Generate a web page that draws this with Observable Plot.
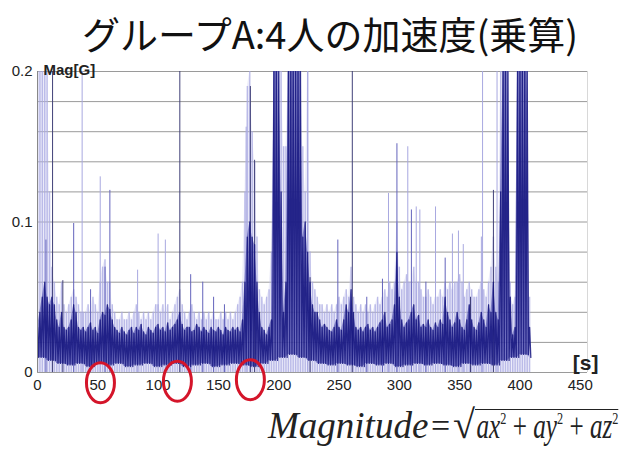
<!DOCTYPE html>
<html><head><meta charset="utf-8">
<script src="https://cdn.jsdelivr.net/npm/d3@7"></script>
<script src="https://cdn.jsdelivr.net/npm/@observablehq/plot@0.6"></script>
<style>
body{margin:0;background:#fff;}
#wrap{position:relative;width:624px;height:450px;overflow:hidden;background:#fff;}
#title{position:absolute;left:18px;top:8px;width:624px;text-align:center;font-family:"Noto Sans CJK JP",sans-serif;font-size:38px;line-height:50px;color:#111;}
#chart{position:absolute;left:0;top:60px;}
.f{position:absolute;font-family:"Liberation Serif","DejaVu Serif",serif;color:#222;white-space:nowrap;}
#fmag{left:268px;top:407px;font-size:37px;line-height:38px;font-style:italic;}
#feq{left:431px;top:407px;font-size:34px;line-height:38px;}
#fsq{left:453px;top:404px;font-size:40px;line-height:42px;}
#frad{left:475px;top:409px;font-size:35px;line-height:33px;border-top:1.6px solid #222;transform:scaleX(0.72);transform-origin:0 0;padding-left:2px;}
#frad sup{font-size:17px;vertical-align:14px;line-height:0;}
</style></head>
<body><div id="wrap">
<div id="title">グループA:4人の加速度(乗算)</div>
<div id="chart"></div>
<div class="f" id="fmag">Magnitude</div>
<div class="f" id="feq">=</div>
<div class="f" id="fsq">√</div>
<div class="f" id="frad"><i>ax</i><sup>2</sup> + <i>ay</i><sup>2</sup> + <i>az</i><sup>2</sup></div>
</div>
<script>
// time step of the binned envelopes (s)
const tStep = 2;
// dark core band: top per 2 s bin, t = 0..408
const coreTop = [
 0.03,0.04,0.05,0.06,0.05,0.045,0.05,0.045,0.035,0.03,
 0.04,0.03,0.028,0.03,0.035,0.045,0.04,0.03,0.028,0.03,
 0.027,0.03,0.033,0.028,0.03,0.026,0.035,0.04,0.038,0.045,
 0.042,0.035,0.03,0.028,0.026,0.03,0.027,0.025,0.028,0.03,
 0.026,0.03,0.028,0.032,0.027,0.025,0.03,0.028,0.026,0.03,
 0.032,0.028,0.03,0.027,0.033,0.028,0.03,0.032,0.035,0.04,
 0.032,0.028,0.03,0.03,0.027,0.028,0.032,0.03,0.027,0.03,
 0.028,0.026,0.03,0.028,0.027,0.03,0.028,0.025,0.03,0.028,
 0.027,0.03,0.028,0.03,0.027,0.035,0.06,0.09,0.1,0.09,
 0.085,0.06,0.04,0.03,0.028,0.025,0.03,0.035,0.2,0.2,
 0.2,0.12,0.04,0.06,0.2,0.2,0.2,0.2,0.2,0.2,
 0.09,0.1,0.08,0.06,0.045,0.04,0.04,0.035,0.03,0.032,
 0.03,0.028,0.027,0.03,0.035,0.03,0.028,0.035,0.045,0.04,
 0.055,0.04,0.03,0.028,0.03,0.027,0.03,0.032,0.028,0.03,
 0.027,0.03,0.033,0.035,0.04,0.03,0.032,0.035,0.045,0.08,
 0.05,0.035,0.03,0.033,0.035,0.04,0.045,0.035,0.038,0.03,
 0.032,0.03,0.035,0.03,0.028,0.033,0.03,0.035,0.032,0.05,
 0.04,0.035,0.03,0.033,0.04,0.035,0.03,0.028,0.035,0.045,
 0.035,0.03,0.028,0.033,0.04,0.035,0.03,0.045,0.04,0.06,
 0.04,0.035,0.12,0.2,0.2,0.2,0.05,0.025,0.03,0.2,
 0.2,0.2,0.2,0.2,0.03
];
// bottom of the dark band, per 8 s bin
const coreLow = [
 0.01,0.008,0.006,0.005,0.006,0.004,0.006,0.005,0.006,0.004,
 0.005,0.006,0.004,0.005,0.006,0.004,0.005,0.006,0.004,0.005,
 0.006,0.005,0.004,0.006,0.008,0.01,0.012,0.01,0.008,0.006,
 0.005,0.006,0.005,0.004,0.006,0.005,0.006,0.004,0.005,0.006,
 0.005,0.006,0.005,0.004,0.006,0.005,0.006,0.005,0.008,0.01,
 0.012,0.01
];
// light haze envelope per 2 s bin
const haloTop = [
 0.2,0.2,0.2,0.2,0.2,0.12,0.07,0.06,0.05,0.045,
 0.06,0.045,0.04,0.045,0.05,0.055,0.05,0.045,0.04,0.04,
 0.04,0.045,0.04,0.05,0.045,0.04,0.06,0.07,0.075,0.06,
 0.06,0.045,0.04,0.035,0.035,0.04,0.035,0.035,0.04,0.035,
 0.04,0.045,0.04,0.035,0.04,0.035,0.04,0.035,0.04,0.045,
 0.045,0.04,0.045,0.04,0.045,0.035,0.04,0.045,0.05,0.055,
 0.045,0.04,0.035,0.04,0.045,0.04,0.035,0.04,0.035,0.04,
 0.035,0.04,0.035,0.04,0.035,0.035,0.04,0.035,0.04,0.035,
 0.04,0.035,0.04,0.045,0.05,0.06,0.12,0.19,0.2,0.16,
 0.14,0.09,0.055,0.05,0.045,0.05,0.055,0.08,0.2,0.2,
 0.2,0.2,0.15,0.15,0.2,0.2,0.2,0.2,0.2,0.2,
 0.15,0.12,0.2,0.08,0.06,0.055,0.05,0.045,0.045,0.04,
 0.045,0.04,0.045,0.04,0.045,0.05,0.045,0.05,0.055,0.05,
 0.07,0.05,0.045,0.04,0.045,0.04,0.045,0.04,0.045,0.04,
 0.045,0.05,0.045,0.05,0.055,0.05,0.06,0.055,0.06,0.1,
 0.07,0.055,0.06,0.065,0.06,0.06,0.07,0.06,0.06,0.055,
 0.05,0.05,0.055,0.05,0.045,0.05,0.05,0.055,0.05,0.06,
 0.055,0.06,0.055,0.06,0.06,0.065,0.06,0.05,0.055,0.06,
 0.055,0.05,0.05,0.055,0.06,0.055,0.05,0.06,0.07,0.09,
 0.07,0.06,0.2,0.2,0.2,0.2,0.06,0.045,0.05,0.2,
 0.2,0.2,0.2,0.2,0.05
];
// isolated thin spikes: time, height, shade (0 light, 1 medium, 2 dark)
const spikeT     = [12.5,7,21,30,37,44,52,56,60,83,100,106,118,127,137,146,155,173,176.5,180,224,226,249,261,273,286,291,298,307,310,314,317,322,330,338,344,349,353,359,368,369,378,381];
const spikeTop   = [0.2,0.088,0.061,0.099,0.2,0.055,0.13,0.07,0.121,0.068,0.092,0.088,0.2,0.065,0.06,0.05,0.045,0.163,0.19,0.141,0.2,0.063,0.088,0.2,0.05,0.062,0.119,0.152,0.15,0.108,0.11,0.108,0.06,0.11,0.076,0.092,0.094,0.085,0.05,0.09,0.2,0.121,0.2];
const spikeShade = [2,1,2,1,0,1,0,1,1,0,0,0,2,1,1,1,1,0,2,2,0,2,1,2,1,1,0,1,0,1,0,0,1,0,1,0,0,0,2,0,0,2,0];
// axis ticks
const xTicks = [0,50,100,150,200,250,300,350,400,450];
const yTicks = [0,0.1,0.2];
const yGrid = [0,0.02,0.04,0.06,0.08,0.1,0.12,0.14,0.16,0.18,0.2];
// red annotation ellipses
const markT = [52.2,116,176.5];
const markY = [-0.0068,-0.0058,-0.0048];

const series = coreTop.map((v,i)=>({t:i*tStep, top:v, halo:haloTop[i], low:coreLow[Math.floor(i*tStep/8)]}));
const zig = series.flatMap(d=>[{t:d.t, y:d.top},{t:d.t+tStep/2, y:d.low}]);
const spikes = spikeT.map((t,i)=>({t, top:spikeTop[i], shade:spikeShade[i]}));
const marks = markT.map((t,i)=>({t, y:markY[i]}));

const ellipse = {draw(ctx){const rx=14, ry=20, k=0.5523;
  ctx.moveTo(rx,0);
  ctx.bezierCurveTo(rx,ry*k,rx*k,ry,0,ry);
  ctx.bezierCurveTo(-rx*k,ry,-rx,ry*k,-rx,0);
  ctx.bezierCurveTo(-rx,-ry*k,-rx*k,-ry,0,-ry);
  ctx.bezierCurveTo(rx*k,-ry,rx,-ry*k,rx,0);
  ctx.closePath();}};

const chart = Plot.plot({
  width:624, height:350,
  marginLeft:37, marginRight:37, marginTop:11, marginBottom:38,
  x:{domain:[0,456], axis:null},
  y:{domain:[0,0.2], axis:null},
  style:{fontFamily:"'Liberation Sans', Arial, sans-serif", background:"transparent", overflow:"visible"},
  marks:[
    Plot.ruleY(yGrid, {stroke:"#9a9a9a", strokeWidth:1}),
    Plot.ruleX([456], {y1:0, y2:0.2, stroke:"#d8d8d8"}),
    Plot.areaY(series, {x:"t", y:"halo", fill:"#c4c4ee", fillOpacity:0.3, curve:"linear", clip:true}),
    Plot.ruleX(series, {x:"t", y1:0, y2:"halo", stroke:"#a8a8e2", strokeWidth:1.4, strokeOpacity:0.75, clip:true}),
    Plot.ruleX(spikes.filter(d=>d.shade===0), {x:"t", y1:0, y2:"top", stroke:"#a8a8e0", strokeWidth:1, clip:true}),
    Plot.ruleX(spikes.filter(d=>d.shade===1), {x:"t", y1:0, y2:"top", stroke:"#6464bc", strokeWidth:1, clip:true}),
    Plot.ruleX(spikes.filter(d=>d.shade===2), {x:"t", y1:0, y2:"top", stroke:"#404078", strokeWidth:1, clip:true}),
    Plot.areaY(series, {x:"t", y1:"low", y2:"top", fill:"#3030a0", fillOpacity:0.5, curve:"linear", clip:true}),
    Plot.line(zig, {x:"t", y:"y", stroke:"#14147e", strokeWidth:1.3, strokeOpacity:0.85, clip:true}),
    Plot.ruleX([0], {y1:0, y2:0.2, stroke:"#888"}),
    Plot.axisX({ticks:xTicks, tickSize:0, tickPadding:7, fontSize:15, fill:"#222", label:null}),
    Plot.axisY({ticks:yTicks, tickSize:0, tickPadding:5, fontSize:15, fill:"#222", label:null, tickFormat:d=>d===0?"0":d3.format(".1f")(d)}),
    Plot.text(["Mag[G]"], {text:d=>d, frameAnchor:"top-left", textAnchor:"start", lineAnchor:"middle", dx:6, dy:-1, fontSize:15, fontWeight:"bold", fill:"#222"}),
    Plot.text(["[s]"], {text:d=>d, frameAnchor:"bottom-right", textAnchor:"end", lineAnchor:"bottom", dx:11, dy:-3, fontSize:21, fontWeight:"bold", fill:"#222"}),
    Plot.dot(marks, {x:"t", y:"y", symbol:ellipse, r:14, stroke:"#d4152a", strokeWidth:3, fill:"none"})
  ]
});
document.getElementById("chart").appendChild(chart);
</script>
</body></html>
